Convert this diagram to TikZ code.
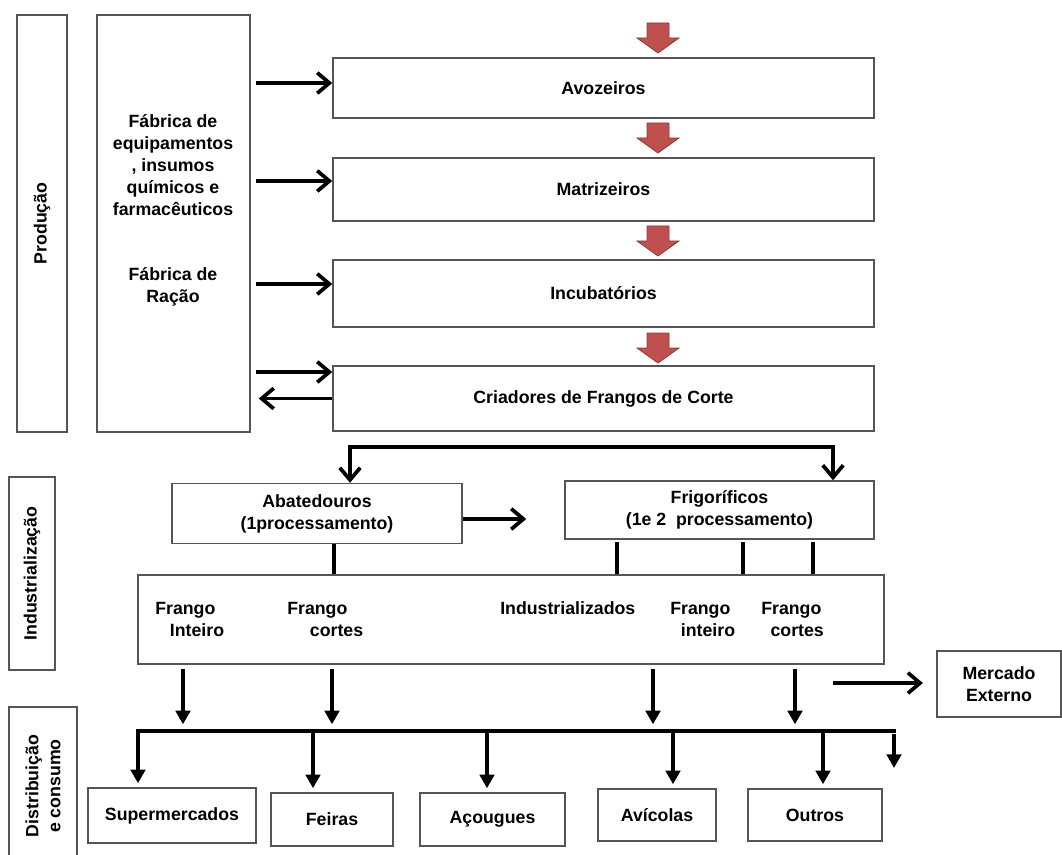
\documentclass[tikz,border=0pt]{standalone}
\usepackage{fontspec}
\setmainfont{Liberation Sans}
\usetikzlibrary{arrows.meta,calc}
\definecolor{blkred}{HTML}{C0504D}
\definecolor{blkedge}{HTML}{8E3B38}
\definecolor{edge}{HTML}{555555}
\tikzset{
  >={Straight Barb[length=3.2mm,width=5.4mm]},
  sz/.style 2 args={minimum width=#1*0.75pt,minimum height=#2*0.75pt},
  box/.style={draw=edge,line width=1.1pt,fill=white,inner sep=0pt,font=\bfseries\fontsize{13.3}{16.5}\selectfont,align=center},
  lbl/.style={inner sep=0pt,font=\bfseries\fontsize{13.3}{16.5}\selectfont,align=center},
  arr/.style={->,line width=2.8pt},
  tarr/.style={-{Triangle[length=3.6mm,width=3.8mm]},line width=2.8pt},
  lnk/.style={line width=2.4pt},
  redblk/.pic={\filldraw[fill=blkred,draw=blkedge,line width=0.6pt] (-11,0) -- (11,0) -- (11,15) -- (21,15) -- (0,30) -- (-21,15) -- (-11,15) -- cycle;}
}
\begin{document}
\begin{tikzpicture}[x=0.75pt,y=-0.75pt]
\useasboundingbox (0,0) rectangle (1062,855);
% producao
\node[box,rotate=90,sz={417}{50}] (prod) at (42,223.5) {Produção};
\node[box,sz={153}{417}] (fab) at (173.5,223.5) {};
\node[lbl] (fabeq) at (173,165) {Fábrica de\\equipamentos\\, insumos\\químicos e\\farmacêuticos};
\node[lbl] (fabra) at (173,287) {Fábrica de\\Ração};
\node[box,sz={541}{60}] (avo) at (603.5,88) {Avozeiros};
\node[box,sz={541}{63}] (mat) at (603.5,189.5) {Matrizeiros};
\node[box,sz={541}{67}] (inc) at (603.5,293.5) {Incubatórios};
\node[box,sz={541}{65}] (cri) at (603.5,398.5) {Criadores de Frangos de Corte};
\foreach \y in {23,123,226,333} \pic at (658,\y) {redblk};
\foreach \b/\d in {avo/-5,mat/-8.5,inc/-9.5,cri/-26.5}
  \draw[arr,shorten <=4pt] ($(fab.east |- \b.west)+(0,\d)$) -- ($(\b.west)+(0,\d)$);
\draw[arr,shorten >=6pt] (cri.west) -- (fab.east |- cri.west);
% industrializacao
\node[box,rotate=90,sz={193}{46}] (ind) at (32,573.5) {Industrialização};
\node[box,sz={290}{60}] (abat) at (317,513.5) {Abatedouros\\(1processamento)};
\node[box,sz={309}{58}] (frig) at (719.5,510) {Frigoríficos\\(1e 2\ \ processamento)};
\coordinate (brk) at (590,447);
\draw[arr,<->] ($(abat.north)+(33,0)$) |- (brk) -| ($(frig.north)+(113.5,0)$);
\draw[arr,shorten >=28.5pt] ($(abat.east)+(0,5.5)$) -- ($(abat.east -| frig.west)+(0,5.5)$);
\node[box,sz={746}{89}] (big) at (511,619.5) {};
\node[lbl,anchor=west,align=left] (fi1) at (155,619) {Frango\\\hspace*{11pt}Inteiro};
\node[lbl,anchor=west,align=left] (fc1) at (287,619) {Frango\\\hspace*{17pt}cortes};
\node[lbl,anchor=west] (indz) at (500,608) {Industrializados};
\node[lbl,anchor=west,align=left] (fi2) at (670,619) {Frango\\\hspace*{8pt}inteiro};
\node[lbl,anchor=west,align=left] (fc2) at (761,619) {Frango\\\hspace*{7pt}cortes};
\draw[lnk] ($(abat.south)+(17,0)$) coordinate (a1) -- (a1 |- big.north);
\foreach \dx in {-102.5,23.5,93.5}
  \draw[lnk,shorten <=2pt] ($(frig.south)+(\dx,0)$) coordinate (f1) -- (f1 |- big.north);
\node[box,sz={124}{66}] (mer) at (999,684) {Mercado\\Externo};
\coordinate (mx) at (833,683);
\draw[arr,shorten >=10pt] (mx) -- (mer.west |- mx);
% distribuicao e consumo
\node[box,rotate=90,sz={158}{68}] (dist) at (43,786) {Distribuição\\e consumo};
\node[box,sz={168}{55}] (sup) at (172,815.5) {Supermercados};
\node[box,sz={122}{53}] (fei) at (332,819.5) {Feiras};
\node[box,sz={145}{53}] (aco) at (492.5,819.5) {Açougues};
\node[box,sz={118}{52}] (avi) at (657,815) {Avícolas};
\node[box,sz={134}{52}] (out) at (815,815) {Outros};
\foreach \x in {183,332,653,795}{
  \coordinate (up\x) at (\x,731);
  \draw[tarr,shorten <=3pt,shorten >=5pt] (up\x |- big.south) -- (up\x);
}
\coordinate (busR) at (894,731);
\coordinate (tail) at (894,768);
\foreach \x/\b in {138/sup,313/fei,487/aco,673/avi,823/out}{
  \coordinate (dn\b) at (\x,731);
  \draw[tarr,shorten >=3pt] (dn\b) -- (dn\b |- \b.north);
}
\draw[lnk,line width=2.8pt,line cap=rect] (dnsup) -- (busR);
\draw[tarr,shorten <=2pt] (busR) -- (tail);
\end{tikzpicture}
\end{document}
